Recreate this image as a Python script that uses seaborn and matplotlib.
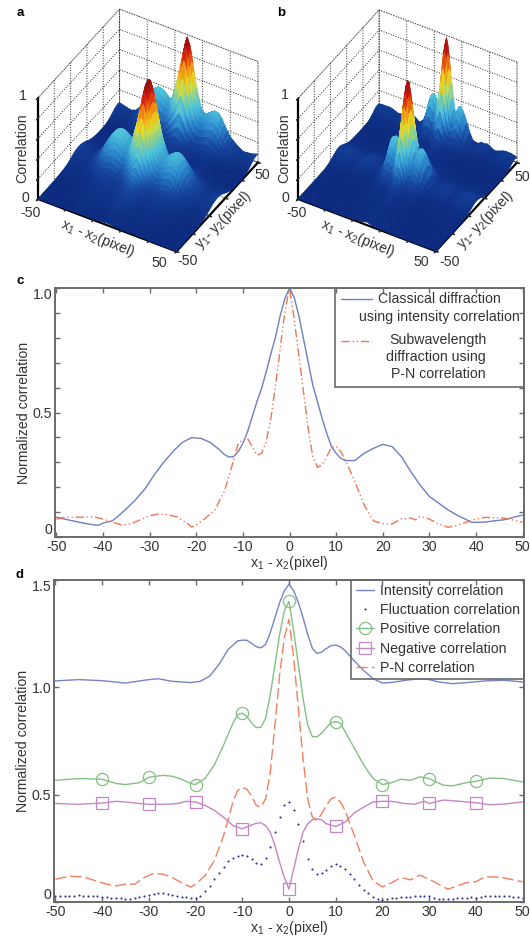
import numpy as np
import matplotlib
matplotlib.use("Agg")
import matplotlib.pyplot as plt
import seaborn as sns
from matplotlib.colors import LinearSegmentedColormap
from matplotlib.patches import Rectangle
from mpl_toolkits.mplot3d import proj3d

# panel c
x_classical = [-50, -48, -46, -44, -42, -41, -40, -38, -37, -35, -33, -31, -29, -27, -25, -23, -21, -19, -17, -15,
               -14, -13, -12, -11, -10, -9, -8, -7, -6, -5, -4, -3, -2, -1, 0, 1, 2, 3, 4, 5, 6, 7, 8, 9, 10, 11, 12,
               14, 16, 18, 20, 22, 24, 26, 28, 30, 32, 34, 36, 38, 39, 40, 42, 44, 46, 48, 50]
y_classical = [.08, .071, .063, .055, .049, .047, .056, .065, .08, .113, .15, .193, .25, .30, .343, .38, .399, .396,
               .38, .35, .332, .321, .323, .343, .376, .423, .483, .543, .596, .663, .736, .803, .889, .956, 1.0,
               .963, .889, .796, .703, .61, .543, .476, .416, .363, .336, .316, .307, .307, .336, .356, .372, .363,
               .323, .263, .209, .163, .136, .109, .087, .069, .059, .059, .06, .065, .069, .079, .088]
x_subwave = [-50, -48, -46, -44, -42, -40, -38, -36, -34, -32, -30, -28, -26, -24, -22, -21, -20, -18, -16, -14, -13,
             -12, -11, -10, -9, -8, -7, -6, -5, -4, -3, -2, -1, 0, 1, 2, 3, 4, 5, 6, 7, 8, 9, 10, 11, 12, 14, 16, 18,
             20, 22, 24, 26, 27, 28, 30, 32, 34, 36, 38, 40, 42, 44, 46, 48, 50]
y_subwave = [.072, .079, .079, .08, .081, .072, .06, .048, .053, .069, .085, .093, .089, .08, .056, .04, .049, .076,
             .109, .183, .243, .309, .376, .39, .396, .363, .329, .336, .383, .476, .609, .756, .903, 1.0, .876, .729,
             .583, .436, .323, .28, .289, .323, .36, .365, .343, .309, .223, .129, .065, .053, .052, .073, .076, .069,
             .083, .072, .052, .039, .047, .06, .072, .079, .077, .076, .068, .059]

# panel d
x_intensity = [-50, -45, -40, -35, -30, -28, -25, -21, -19, -17, -15, -13, -11, -10, -9, -8, -7, -6, -5, -4, -3, -2,
               -1, 0, 1, 2, 3, 4, 5, 6, 7, 8, 9, 10, 11, 12, 14, 16, 18, 20, 22, 25, 28, 30, 32, 35, 38, 42, 46, 50]
y_intensity = [1.03, 1.036, 1.031, 1.02, 1.036, 1.04, 1.028, 1.022, 1.028, 1.052, 1.106, 1.177, 1.216, 1.22, 1.219,
               1.205, 1.189, 1.184, 1.2, 1.255, 1.325, 1.395, 1.45, 1.48, 1.45, 1.395, 1.325, 1.247, 1.181, 1.158,
               1.164, 1.181, 1.194, 1.197, 1.189, 1.172, 1.122, 1.078, 1.04, 1.02, 1.023, 1.033, 1.04, 1.036, 1.025,
               1.017, 1.022, 1.03, 1.033, 1.025]
x_positive = [-50, -45, -40, -37, -35, -32, -30, -27, -25, -23, -21, -20, -18, -16, -14, -12, -11, -10, -9, -8, -7, -6,
              -5, -4, -3, -2, -1, 0, 1, 2, 3, 4, 5, 6, 7, 8, 9, 10, 11, 12, 14, 16, 18, 20, 22, 24, 26, 28, 30, 33, 35,
              38, 40, 43, 46, 50]
y_positive = [.567, .575, .572, .552, .547, .556, .581, .59, .586, .572, .552, .547, .575, .6375, .731, .833, .872,
              .88, .864, .833, .8125, .814, .856, .966, 1.106, 1.247, 1.356, 1.40, 1.2625, 1.106, .95, .825, .77, .77,
              .786, .8125, .836, .84, .833, .794, .716, .6375, .575, .547, .556, .572, .567, .583, .575, .544, .541,
              .556, .5625, .577, .575, .559]
x_negative = [-50, -45, -40, -37, -35, -32, -30, -27, -24, -22, -20, -18, -16, -14, -12, -10, -8, -7, -6, -5, -4, -3,
              -2, -1, 0, 1, 2, 3, 4, 5, 6, 7, 8, 10, 12, 14, 16, 18, 20, 22, 25, 27, 29, 30, 33, 36, 40, 43, 46, 50]
y_negative = [.459, .455, .461, .469, .466, .459, .455, .455, .458, .469, .466, .45, .427, .395, .356, .341, .359,
              .367, .369, .356, .325, .2625, .184, .114, .06, .153, .247, .325, .364, .383, .3875, .383, .364, .352,
              .372, .416, .442, .466, .469, .469, .458, .456, .469, .459, .475, .47, .4625, .453, .456, .466]
x_pn = [-50, -47, -44, -42, -39, -37, -35, -33, -31, -29, -27, -25, -23, -21, -20, -18, -16, -14, -12, -11, -10, -9,
        -8, -7, -6, -5, -4, -3, -2, -1, 0, 1, 2, 3, 4, 5, 6, 7, 8, 9, 10, 11, 12, 14, 16, 18, 20, 22, 24, 26, 28, 30,
        32, 34, 36, 38, 40, 42, 44, 46, 48, 50]
y_pn = [.106, .12, .117, .103, .083, .075, .083, .083, .114, .133, .13, .114, .09, .069, .083, .122, .192, .309, .466,
        .52, .533, .525, .494, .45, .442, .481, .606, .825, 1.059, 1.231, 1.317, 1.1375, .903, .669, .481, .395, .38,
        .411, .45, .481, .489, .466, .427, .309, .184, .098, .07, .09, .114, .103, .125, .106, .083, .059, .075, .09,
        .095, .117, .117, .1125, .103, .094]
x_fluct = list(range(-50, 51))
y_fluct = [.026, .028, .029, .03, .03, .031, .03, .029, .028, .026,
           .024, .022, .02, .018, .017, .016, .016, .018, .021, .027,
           .033, .037, .04, .04, .037, .033, .028, .024, .021, .019,
           .019, .03, .05, .075, .105, .135, .165, .19, .205, .215,
           .219, .212, .2, .18, .178, .205, .258, .325, .394, .453,
           .466,
           .43, .365, .285, .2, .155, .13, .135, .15, .17, .175,
           .17, .155, .13, .105, .08, .055, .04, .025, .015, .01,
           .012, .018, .02, .022, .024, .025, .028, .03, .03, .028,
           .02, .016, .014, .013, .014, .017, .019, .02, .021, .02,
           .024, .028, .03, .03, .029, .028, .027, .025, .022, .02]
marker_x = [-40, -30, -20, -10, 0, 10, 20, 30, 40]

# panels a and b: profile along y, the x profile is the curve of panel c
y_grid = list(range(-50, 51, 2))
y_prof_a = [.02, .02, .02, .025, .03, .035, .04, .05, .06, .07, .08, .09, .105, .125, .15, .18, .22, .28, .36, .46,
            .58, .71, .83, .93, .985, 1,
            .985, .93, .83, .71, .57, .44, .33, .24, .17, .12, .09, .07, .055, .05, .06, .09, .14, .22, .34, .5, .66,
            .82, .94, 1, .93]
y_prof_b = [.03, .03, .03, .03, .03, .03, .03, .03, .03, .03, .03, .035, .04, .045, .05, .06, .08, .12, .18, .27,
            .39, .53, .69, .84, .96, 1,
            .96, .84, .68, .51, .36, .24, .16, .1, .07, .05, .04, .04, .035, .035, .04, .05, .07, .11, .2, .36, .55,
            .78, .95, 1, .9]
surface_colors = [(0, "#0b2a80"), (.12, "#15459f"), (.25, "#2a86cc"), (.38, "#4cc3dc"), (.48, "#86cf9a"),
                  (.6, "#e6e026"), (.74, "#f29010"), (.88, "#d4160f"), (1, "#7c0f10")]

W, H = 530, 936
TEXT = "#333333"
EDGE = "#6a6a6a"
FS = 10.2

sns.set_theme(style="white", rc={"grid.linestyle": ":", "grid.color": "#222222", "grid.linewidth": 0.7})
plt.rcParams["font.family"] = ["Liberation Sans", "DejaVu Sans"]
plt.rcParams["mathtext.default"] = "regular"
plt.rcParams["text.color"] = TEXT
plt.rcParams["axes.unicode_minus"] = False

fig = plt.figure(figsize=(W / 100, H / 100), dpi=100)
cmap = LinearSegmentedColormap.from_list("corr", surface_colors)


def put(px, py, s, size=FS, **kw):
    kw.setdefault("ha", "center")
    kw.setdefault("va", "center")
    fig.text(px / W, 1 - py / H, s, fontsize=size, **kw)


def box(left, top, right, bottom):
    return [left / W, 1 - bottom / H, (right - left) / W, (bottom - top) / H]


def corner_px(ax, x, y, z):
    px, py, _ = proj3d.proj_transform(x, y, z, ax.get_proj())
    return ax.transData.transform((px, py))


def surface_panel(left_corner, right_corner, x, y, px_prof, py_prof):
    ax = fig.add_axes(box(0, 0, 265, 265), projection="3d", proj_type="ortho", computed_zorder=False)
    ax.patch.set_alpha(0)
    ax.view_init(elev=40, azim=-59.5)
    ax.set_xlim(-50, 50)
    ax.set_ylim(-50, 50)
    ax.set_zlim(0, 1)
    ax.set_xticks([-50, -30, -10, 10, 30, 50])
    ax.set_yticks([-50, -30, -10, 10, 30, 50])
    ax.set_zticks([0, .2, .4, .6, .8, 1])
    ax.set_xticklabels([])
    ax.set_yticklabels([])
    ax.set_zticklabels([])
    ax.grid(True)
    ax.zaxis.set_ticks_position("lower")
    for a in (ax.xaxis, ax.yaxis, ax.zaxis):
        a.pane.set_facecolor((1, 1, 1, 0))
        a.pane.set_edgecolor("#222222")
        a.pane.set_linestyle(":")
        a.pane.set_linewidth(0.7)
        a.line.set_color("black")
        a.line.set_linewidth(1.6)
    X, Y = np.meshgrid(x, y)
    Z = np.outer(py_prof, px_prof)
    surf = ax.plot_surface(X, Y, Z, cmap=cmap, vmin=0, vmax=1, rstride=1, cstride=1, linewidth=0.5, antialiased=True)
    surf.set_edgecolor("face")

    # fit the floor corners to where they are in the picture
    zoom = 1.0
    for _ in range(4):
        ax.set_box_aspect((1, 1, .82), zoom=zoom)
        fig.canvas.draw()
        p0 = corner_px(ax, -50, -50, 0)
        p1 = corner_px(ax, 50, 50, 0)
        zoom *= (right_corner[0] - left_corner[0]) / (p1[0] - p0[0])
    ax.set_box_aspect((1, 1, .82), zoom=zoom)
    fig.canvas.draw()
    p0 = corner_px(ax, -50, -50, 0)
    pos = ax.get_position()
    ax.set_position([pos.x0 + (left_corner[0] - p0[0]) / W,
                     pos.y0 + ((H - left_corner[1]) - p0[1]) / H, pos.width, pos.height])
    return ax


surface_panel((38, 199), (258, 163), x_classical, y_grid, y_classical, y_prof_a)
surface_panel((298, 199), (517, 163), x_subwave, y_grid, y_subwave, y_prof_b)

xlab = r"x$_1$ - x$_2$(pixel)"
ylab = r"y$_1$- y$_2$(pixel)"
put(20, 13, "a", size=9.5, fontweight="bold", color="black")
put(281, 13, "b", size=9.5, fontweight="bold", color="black")
put(20, 281, "c", size=9.5, fontweight="bold", color="black")
put(20, 575, "d", size=9.5, fontweight="bold", color="black")
for ox, pts in ((0, ((31, 213), (159, 263), (188, 261), (262, 175), (23, 96), (25, 198))),
                (265, ((32, 213), (156, 262), (185, 262), (257, 177), (20, 95), (20, 198)))):
    for (px, py), s in zip(pts, ("-50", "50", "-50", "50", "1", "0")):
        put(ox + px, py, s)
    put(ox + 22 - (3 if ox else 0), 148, "Correlation", rotation=90)
    put(ox + 98 - (5 if ox else 0), 238, xlab, rotation=-22)
    put(ox + 223 - (3 if ox else 0), 220, ylab, rotation=46)


def line_axes(rect, ymax, yticks, ylabels):
    ax = fig.add_axes(rect)
    ax.set_xlim(-50.3, 50.3)
    ax.set_ylim(0, ymax)
    ax.set_xticks(range(-50, 51, 10))
    ax.set_yticks(yticks)
    ax.set_yticklabels(ylabels)
    ax.tick_params(direction="in", length=3.5, width=1, color=EDGE, top=True, right=True, bottom=True, left=True,
                   labelsize=FS, labelcolor=TEXT, pad=2)
    for s in ax.spines.values():
        s.set_color(EDGE)
        s.set_linewidth(1.4)
    for t, v in zip(ax.get_yticklabels(), yticks):
        if v == 0:
            t.set_va("bottom")
        elif v == ymax:
            t.set_va("top")
    ax.set_xlabel(xlab, fontsize=FS, color=TEXT, labelpad=0)
    ax.set_ylabel("Normalized correlation", fontsize=FS, color=TEXT)
    ax.yaxis.set_label_coords(-0.052, 0.5)
    return ax


# panel c
ax_c = line_axes(box(55, 288, 524, 537), 1.0, [i / 10 for i in range(11)],
                 ["0", "", "", "", "", "0.5", "", "", "", "", "1.0"])
sns.lineplot(x=x_classical, y=y_classical, ax=ax_c, color="#6f7fc0", lw=1, estimator=None, legend=False)
sns.lineplot(x=x_subwave, y=y_subwave, ax=ax_c, color="#ee7755", lw=1, ls=(0, (6, 2, 1, 2, 1, 2)), estimator=None,
             legend=False)
ax_c.add_patch(Rectangle((335 / W, 1 - 387 / H), 189 / W, 99 / H, transform=fig.transFigure, fill=False,
                         ec=EDGE, lw=1.2, zorder=6))
fig.add_artist(plt.Line2D([341 / W, 372 / W], [1 - 299 / H] * 2, color="#6f7fc0", lw=1))
fig.add_artist(plt.Line2D([341 / W, 372 / W], [1 - 341 / H] * 2, color="#ee7755", lw=1, ls=(0, (6, 2, 1, 2, 1, 2))))
put(439, 299, "Classical diffraction")
put(439, 317, "using intensity correlation")
put(438, 340, "Subwavelength")
put(436, 357, "diffraction using")
put(438, 374, "P-N correlation")

# panel d
ax_d = line_axes(box(54, 580, 524, 902), 1.5, [0, .5, 1.0, 1.5], ["0", "0.5", "1.0", "1.5"])
sns.lineplot(x=x_intensity, y=y_intensity, ax=ax_d, color="#7684c2", lw=1, estimator=None, legend=False,
             label="Intensity correlation")
sns.lineplot(x=x_fluct, y=y_fluct, ax=ax_d, color="#2e2e90", ls="none", marker="o", ms=1.5, mec="none", estimator=None,
             legend=False, label="Fluctuation correlation")
sns.lineplot(x=x_positive, y=y_positive, ax=ax_d, color="#84c084", lw=1, marker="o", ms=8.8, mfc="none", mec="#84c084",
             mew=0.9, markevery=[i for i, v in enumerate(x_positive) if v in marker_x], estimator=None, legend=False,
             label="Positive correlation")
sns.lineplot(x=x_negative, y=y_negative, ax=ax_d, color="#c486c4", lw=1, marker="s", ms=8, mfc="none", mec="#c486c4",
             mew=0.9, markevery=[i for i, v in enumerate(x_negative) if v in marker_x], estimator=None, legend=False,
             label="Negative correlation")
sns.lineplot(x=x_pn, y=y_pn, ax=ax_d, color="#f08060", lw=1, ls=(0, (8, 3)), estimator=None, legend=False,
             label="P-N correlation")
leg = ax_d.legend(loc="upper right", borderaxespad=0, frameon=True, fancybox=False, edgecolor=EDGE, numpoints=1,
                  fontsize=FS, labelspacing=0.36, handlelength=1.3, handletextpad=0.4, borderpad=0.3,
                  labelcolor=TEXT)
frame = leg.get_frame()
frame.set_alpha(None)
frame.set_facecolor("none")
frame.set_edgecolor(EDGE)
frame.set_linewidth(1.2)
for h in leg.legend_handles:
    h.set_markevery([1])

fig.savefig("out.png", dpi=100)
